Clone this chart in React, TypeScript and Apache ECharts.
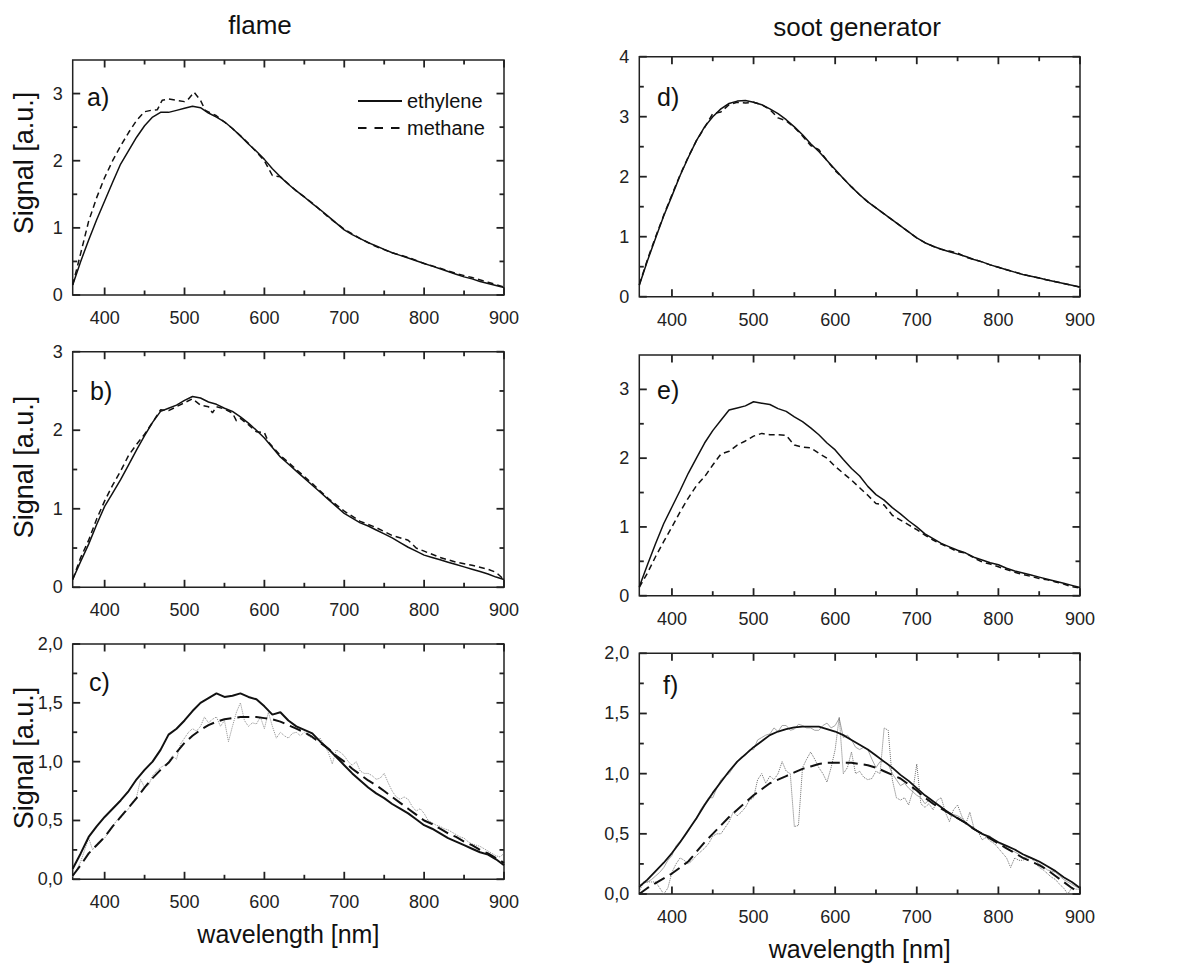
import React, { useEffect, useRef } from 'react';
import * as echarts from 'echarts';

const FONT = '"Liberation Sans", Arial, Helvetica, sans-serif';
const AX = '#222';
const INK = '#111';

// ---- axis range and tick values ----
const X_MIN = 360;
const X_MAX = 900;
const X_MAJOR_STEP = 100;
const X_MAJOR_TICKS = [400, 500, 600, 700, 800, 900];
const X_MINOR_TICKS = [450, 550, 650, 750, 850];
const Y_TICKS_A = { major: [0, 1, 2, 3], minor: [0.5, 1.5, 2.5] };
const Y_TICKS_B = { major: [0, 1, 2, 3], minor: [0.5, 1.5, 2.5] };
const Y_TICKS_D = { major: [0, 1, 2, 3, 4], minor: [0.5, 1.5, 2.5, 3.5] };
const Y_TICKS_CF = { major: [0, 0.5, 1, 1.5, 2], minor: [0.25, 0.75, 1.25, 1.75] };

// ---- wavelength grids [nm] ----
const WL10 = [360, 370, 380, 390, 400, 410, 420, 430, 440, 450, 460, 470, 480, 490, 500, 510, 520, 530, 540, 550,
  560, 570, 580, 590, 600, 610, 620, 630, 640, 650, 660, 670, 680, 690, 700, 710, 720, 730, 740, 750,
  760, 770, 780, 790, 800, 810, 820, 830, 840, 850, 860, 870, 880, 890, 900];
const WL5 = [360, 365, 370, 375, 380, 385, 390, 395, 400, 405, 410, 415, 420, 425, 430, 435, 440, 445, 450, 455,
  460, 465, 470, 475, 480, 485, 490, 495, 500, 505, 510, 515, 520, 525, 530, 535, 540, 545, 550, 555,
  560, 565, 570, 575, 580, 585, 590, 595, 600, 605, 610, 615, 620, 625, 630, 635, 640, 645, 650, 655,
  660, 665, 670, 675, 680, 685, 690, 695, 700, 705, 710, 715, 720, 725, 730, 735, 740, 745, 750, 755,
  760, 765, 770, 775, 780, 785, 790, 795, 800, 805, 810, 815, 820, 825, 830, 835, 840, 845, 850, 855,
  860, 865, 870, 875, 880, 885, 890, 895, 900];

// ---- panel a) flame ----
const A_ETHYLENE = [0.15, 0.5, 0.82, 1.12, 1.4, 1.68, 1.95, 2.15, 2.35, 2.52,
  2.65, 2.72, 2.72, 2.75, 2.78, 2.81, 2.79, 2.71, 2.65, 2.58,
  2.48, 2.37, 2.25, 2.14, 2.02, 1.88, 1.76, 1.65, 1.55, 1.46,
  1.36, 1.27, 1.17, 1.07, 0.97, 0.9, 0.84, 0.78, 0.73, 0.68,
  0.63, 0.59, 0.55, 0.51, 0.47, 0.43, 0.39, 0.35, 0.31, 0.27,
  0.24, 0.2, 0.17, 0.14, 0.11];
const A_METHANE_WL = [360, 370, 380, 390, 400, 410, 420, 430, 440, 450, 458, 466, 472, 480, 490, 500, 505, 512, 520, 526,
  540, 560, 580, 600, 610, 620, 640, 660, 680, 700, 720, 740, 760, 780, 800, 820, 840, 860, 880, 900];
const A_METHANE = [0.15, 0.62, 1.1, 1.45, 1.75, 2.0, 2.22, 2.42, 2.6, 2.73,
  2.75, 2.76, 2.9, 2.92, 2.9, 2.88, 2.92, 3.02, 2.9, 2.75,
  2.67, 2.48, 2.26, 2.0, 1.78, 1.76, 1.55, 1.37, 1.16, 0.98,
  0.84, 0.72, 0.63, 0.56, 0.47, 0.4, 0.32, 0.26, 0.19, 0.12];

// ---- panel b) flame ----
const B_ETHYLENE = [0.1, 0.33, 0.55, 0.8, 1.03, 1.2, 1.37, 1.56, 1.75, 1.93,
  2.1, 2.24, 2.28, 2.32, 2.38, 2.43, 2.41, 2.36, 2.33, 2.28,
  2.24, 2.17, 2.09, 2.0, 1.9, 1.78, 1.66, 1.57, 1.48, 1.39,
  1.3, 1.21, 1.12, 1.03, 0.94, 0.88, 0.82, 0.78, 0.73, 0.68,
  0.63, 0.57, 0.51, 0.46, 0.41, 0.38, 0.35, 0.32, 0.29, 0.26,
  0.23, 0.2, 0.17, 0.13, 0.1];
const B_METHANE_WL = [360, 370, 380, 390, 400, 410, 420, 430, 440, 450, 460, 470, 480, 490, 500, 510, 520, 530, 535, 540,
  550, 560, 565, 570, 580, 590, 600, 605, 620, 640, 660, 680, 700, 720, 740, 760, 780, 790, 800, 820,
  840, 860, 880, 890, 900];
const B_METHANE = [0.1, 0.38, 0.6, 0.87, 1.1, 1.3, 1.48, 1.68, 1.82, 1.95,
  2.1, 2.26, 2.25, 2.3, 2.35, 2.4, 2.32, 2.3, 2.22, 2.3,
  2.27, 2.22, 2.12, 2.15, 2.07, 1.98, 1.97, 1.85, 1.68, 1.5,
  1.32, 1.13, 0.97, 0.84, 0.76, 0.66, 0.6, 0.5, 0.46, 0.38,
  0.32, 0.28, 0.23, 0.19, 0.1];

// ---- panel c) flame ----
const C_ETHYLENE = [0.09, 0.22, 0.36, 0.45, 0.53, 0.6, 0.67, 0.75, 0.85, 0.93,
  1.0, 1.1, 1.23, 1.28, 1.35, 1.43, 1.5, 1.54, 1.58, 1.55,
  1.56, 1.58, 1.55, 1.53, 1.47, 1.4, 1.42, 1.35, 1.3, 1.27,
  1.24, 1.17, 1.11, 1.04, 0.97, 0.9, 0.84, 0.78, 0.73, 0.69,
  0.64, 0.6, 0.56, 0.51, 0.46, 0.43, 0.39, 0.35, 0.32, 0.29,
  0.26, 0.23, 0.21, 0.17, 0.12];
const C_METHANE = [0.03, 0.12, 0.22, 0.29, 0.36, 0.45, 0.53, 0.61, 0.69, 0.78,
  0.86, 0.93, 0.99, 1.08, 1.16, 1.22, 1.27, 1.31, 1.34, 1.36,
  1.37, 1.38, 1.38, 1.38, 1.37, 1.36, 1.34, 1.31, 1.28, 1.25,
  1.21, 1.16, 1.11, 1.05, 1.0, 0.94, 0.89, 0.84, 0.8, 0.75,
  0.7, 0.65, 0.6, 0.55, 0.5, 0.47, 0.43, 0.39, 0.36, 0.32,
  0.29, 0.25, 0.22, 0.18, 0.14];
const C_MEASURED = [0.02, 0.08, 0.15, 0.25, 0.35, 0.25, 0.3, 0.33, 0.35, 0.4,
  0.45, 0.5, 0.52, 0.56, 0.6, 0.66, 0.7, 0.85, 0.78, 0.8,
  0.88, 0.92, 0.95, 0.97, 1.0, 1.05, 1.02, 1.15, 1.2, 1.25,
  1.28, 1.26, 1.3, 1.38, 1.33, 1.36, 1.38, 1.3, 1.35, 1.17,
  1.3, 1.42, 1.5, 1.35, 1.3, 1.33, 1.32, 1.38, 1.28, 1.42,
  1.3, 1.2, 1.25, 1.22, 1.2, 1.24, 1.25, 1.22, 1.25, 1.22,
  1.2, 1.18, 1.2, 1.14, 1.08, 0.98, 1.1, 1.08, 1.05, 1.0,
  0.97, 1.0, 0.92, 0.9, 0.9, 0.88, 0.85, 0.86, 0.9, 0.82,
  0.75, 0.7, 0.68, 0.7, 0.68, 0.62, 0.58, 0.6, 0.56, 0.5,
  0.48, 0.46, 0.45, 0.43, 0.42, 0.4, 0.38, 0.36, 0.35, 0.32,
  0.3, 0.29, 0.28, 0.26, 0.24, 0.22, 0.2, 0.19, 0.22];

// ---- panel d) soot generator ----
const D_ETHYLENE = [0.19, 0.6, 0.98, 1.35, 1.68, 2.02, 2.32, 2.6, 2.83, 3.0,
  3.13, 3.22, 3.26, 3.27, 3.24, 3.2, 3.13, 3.05, 2.95, 2.83,
  2.7, 2.55, 2.42, 2.27, 2.12, 1.97, 1.83, 1.7, 1.58, 1.48,
  1.38, 1.28, 1.18, 1.08, 0.98, 0.9, 0.84, 0.79, 0.75, 0.71,
  0.67, 0.62, 0.58, 0.53, 0.49, 0.45, 0.41, 0.37, 0.34, 0.31,
  0.28, 0.25, 0.22, 0.19, 0.16];
const D_METHANE = [0.2, 0.62, 1.0, 1.36, 1.7, 2.03, 2.33, 2.6, 2.82, 3.05,
  3.08, 3.2, 3.24, 3.23, 3.24, 3.2, 3.12, 2.98, 2.93, 2.82,
  2.68, 2.52, 2.45, 2.27, 2.1, 1.97, 1.83, 1.7, 1.58, 1.48,
  1.38, 1.28, 1.18, 1.08, 0.98, 0.9, 0.84, 0.79, 0.76, 0.73,
  0.66, 0.62, 0.58, 0.53, 0.49, 0.45, 0.41, 0.37, 0.34, 0.31,
  0.28, 0.25, 0.22, 0.19, 0.16];

// ---- panel e) soot generator ----
const E_ETHYLENE = [0.13, 0.45, 0.76, 1.05, 1.29, 1.53, 1.78, 2.0, 2.22, 2.4,
  2.55, 2.7, 2.73, 2.76, 2.82, 2.8, 2.78, 2.72, 2.68, 2.6,
  2.53, 2.44, 2.34, 2.22, 2.12, 1.98, 1.85, 1.74, 1.59, 1.47,
  1.39, 1.28, 1.19, 1.09, 1.0, 0.9, 0.83, 0.76, 0.71, 0.66,
  0.62, 0.56, 0.52, 0.48, 0.45, 0.4, 0.36, 0.33, 0.3, 0.27,
  0.24, 0.21, 0.18, 0.15, 0.12];
const E_METHANE = [0.12, 0.33, 0.57, 0.79, 1.0, 1.22, 1.42, 1.6, 1.73, 1.9,
  2.06, 2.1, 2.19, 2.25, 2.32, 2.36, 2.34, 2.34, 2.33, 2.19,
  2.16, 2.15, 2.07, 2.0, 1.88, 1.78, 1.68, 1.57, 1.46, 1.34,
  1.32, 1.17, 1.1, 1.03, 0.96, 0.88, 0.81, 0.75, 0.7, 0.64,
  0.62, 0.55, 0.49, 0.46, 0.42, 0.38, 0.34, 0.31, 0.28, 0.25,
  0.23, 0.2, 0.17, 0.13, 0.11];

// ---- panel f) soot generator ----
const F_ETHYLENE = [0.06, 0.12, 0.19, 0.26, 0.34, 0.43, 0.53, 0.63, 0.74, 0.84,
  0.93, 1.02, 1.1, 1.16, 1.22, 1.27, 1.32, 1.35, 1.37, 1.385,
  1.39, 1.39, 1.39, 1.37, 1.35, 1.32, 1.28, 1.24, 1.2, 1.15,
  1.1, 1.05, 0.99, 0.94, 0.88, 0.82, 0.77, 0.72, 0.67, 0.63,
  0.59, 0.54, 0.5, 0.47, 0.43, 0.4, 0.37, 0.33, 0.3, 0.27,
  0.23, 0.19, 0.14, 0.1, 0.05];
const F_METHANE = [0.0, 0.05, 0.09, 0.13, 0.17, 0.22, 0.27, 0.35, 0.43, 0.5,
  0.57, 0.64, 0.7, 0.76, 0.82, 0.87, 0.92, 0.95, 0.98, 1.01,
  1.04, 1.06, 1.08, 1.09, 1.09, 1.09, 1.09, 1.08, 1.07, 1.05,
  1.02, 0.99, 0.96, 0.91, 0.86, 0.8, 0.75, 0.71, 0.67, 0.63,
  0.59, 0.54, 0.5, 0.46, 0.42, 0.38, 0.34, 0.3, 0.27, 0.24,
  0.2, 0.15, 0.1, 0.05, 0.01];
const F_MEASURED_ETH = [0.07, 0.09, 0.1, 0.12, 0.15, 0.18, 0.22, 0.28, 0.32, 0.4,
  0.44, 0.47, 0.52, 0.58, 0.62, 0.7, 0.75, 0.8, 0.8, 0.88,
  0.95, 0.98, 1.0, 1.05, 1.1, 1.14, 1.15, 1.2, 1.2, 1.28,
  1.3, 1.32, 1.33, 1.38, 1.35, 1.4, 1.4, 1.36, 1.37, 1.41,
  1.4, 1.38, 1.38, 1.36, 1.36, 1.4, 1.42, 1.38, 1.4, 1.46,
  1.3, 1.32, 1.28, 1.22, 1.2, 1.22, 1.2, 1.12, 1.05, 1.1,
  1.1, 1.08, 1.0, 0.95, 0.9, 0.92, 0.88, 0.85, 0.82, 0.8,
  0.75, 0.78, 0.75, 0.74, 0.72, 0.7, 0.68, 0.66, 0.65, 0.63,
  0.6, 0.57, 0.55, 0.52, 0.5, 0.49, 0.48, 0.45, 0.42, 0.41,
  0.38, 0.36, 0.35, 0.33, 0.3, 0.31, 0.3, 0.28, 0.25, 0.23,
  0.2, 0.19, 0.18, 0.15, 0.12, 0.1, 0.08, 0.06, 0.05];
const F_MEASURED_METH = [0.02, 0.1, 0.1, 0.1, 0.1, 0.05, 0.0, 0.05, 0.18, 0.25,
  0.3, 0.28, 0.25, 0.28, 0.32, 0.35, 0.38, 0.42, 0.48, 0.5,
  0.5, 0.55, 0.6, 0.68, 0.65, 0.68, 0.72, 0.78, 0.8, 0.95,
  1.0, 0.92, 0.98, 0.95, 1.0, 1.1, 1.02, 1.0, 0.56, 0.57,
  1.05, 1.12, 1.18, 1.12, 1.05, 1.0, 0.93, 1.05, 1.2, 1.47,
  1.0, 1.05, 1.18, 1.0, 1.02, 0.97, 0.95, 0.96, 1.02, 1.0,
  1.38, 1.36, 0.95, 0.8, 0.78, 0.8, 0.74, 0.85, 1.08, 0.75,
  0.72, 0.75, 0.7, 0.78, 0.8, 0.68, 0.6, 0.7, 0.74, 0.65,
  0.58, 0.68, 0.55, 0.52, 0.45, 0.47, 0.44, 0.42, 0.38, 0.34,
  0.3, 0.22, 0.3, 0.28, 0.28, 0.3, 0.3, 0.26, 0.22, 0.2,
  0.17, 0.14, 0.12, 0.08, 0.05, 0.0, 0.05, 0.04, 0.04];

const zip = (xs: number[], ys: number[]) => xs.map((x, i) => [x, ys[i]]);

type Panel = {
  label: string; left: number; top: number; width: number; height: number;
  yMax: number; yStep: number; yTicks: { major: number[]; minor: number[] }; comma: boolean; xName?: string;
};

const PANELS: Panel[] = [
  { label: 'a)', left: 72.7, top: 60, width: 431.3, height: 235, yMax: 3.5, yStep: 1, yTicks: Y_TICKS_A, comma: false },
  { label: 'b)', left: 72.7, top: 351.7, width: 431.3, height: 235.6, yMax: 3, yStep: 1, yTicks: Y_TICKS_B, comma: false },
  { label: 'c)', left: 72.7, top: 644, width: 431.3, height: 235.3, yMax: 2, yStep: 0.5, yTicks: Y_TICKS_CF, comma: true, xName: 'wavelength [nm]' },
  { label: 'd)', left: 639.3, top: 56.7, width: 440.7, height: 240, yMax: 4, yStep: 1, yTicks: Y_TICKS_D, comma: false },
  { label: 'e)', left: 639.3, top: 355, width: 440.7, height: 240.7, yMax: 3.5, yStep: 1, yTicks: Y_TICKS_A, comma: false },
  { label: 'f)', left: 639.3, top: 653.3, width: 440.7, height: 240.7, yMax: 2, yStep: 0.5, yTicks: Y_TICKS_CF, comma: true, xName: 'wavelength [nm]' },
];

const LABEL_POS = [[87, 97], [90, 391], [89, 682], [657, 97], [657, 390], [663, 685]];

// Mirror tick marks on all four sides, drawn as small rect symbols placed through the axes.
const TICK_MAJ = 7.5;
const TICK_MIN = 4.5;
const TICK_W = 1.8;
function tickSeries(gi: number, p: Panel) {
  const data: any[] = [];
  const addX = (v: number, len: number) => {
    data.push({ value: [v, 0], symbolSize: [TICK_W, len], symbolOffset: [0, -len / 2] });
    data.push({ value: [v, p.yMax], symbolSize: [TICK_W, len], symbolOffset: [0, len / 2] });
  };
  const addY = (v: number, len: number) => {
    data.push({ value: [X_MIN, v], symbolSize: [len, TICK_W], symbolOffset: [len / 2, 0] });
    data.push({ value: [X_MAX, v], symbolSize: [len, TICK_W], symbolOffset: [-len / 2, 0] });
  };
  X_MAJOR_TICKS.forEach((v) => addX(v, TICK_MAJ));
  X_MINOR_TICKS.forEach((v) => addX(v, TICK_MIN));
  p.yTicks.major.forEach((v) => addY(v, TICK_MAJ));
  p.yTicks.minor.forEach((v) => addY(v, TICK_MIN));
  return {
    type: 'scatter', name: 'axis ticks', xAxisIndex: gi, yAxisIndex: gi, symbol: 'rect',
    itemStyle: { color: AX, opacity: 1 }, clip: false, silent: true, z: 10,
    emphasis: { disabled: true }, data,
  };
}

function buildOption() {
  const grids: any[] = [];
  const xAxes: any[] = [];
  const yAxes: any[] = [];
  PANELS.forEach((p, gi) => {
    grids.push({ left: p.left, top: p.top, width: p.width, height: p.height, show: true, borderColor: AX, borderWidth: 1.5, backgroundColor: 'transparent' });
    xAxes.push({
      type: 'value', gridIndex: gi, min: X_MIN, max: X_MAX, minInterval: X_MAJOR_STEP, maxInterval: X_MAJOR_STEP,
      position: 'bottom', splitLine: { show: false }, axisLine: { show: false, onZero: false },
      axisTick: { show: false },
      axisLabel: { show: true, showMinLabel: false, showMaxLabel: true, margin: 14, fontSize: 18, color: '#222', fontFamily: FONT, formatter: (v: number) => String(v) },
      name: p.xName || '', nameLocation: 'middle', nameGap: 42,
      nameTextStyle: { fontSize: 25, fontFamily: FONT, color: '#111' },
    });
    const fmt = p.comma ? (v: number) => v.toFixed(1).replace('.', ',') : (v: number) => String(v);
    const maxIsTick = Math.abs(p.yMax / p.yStep - Math.round(p.yMax / p.yStep)) < 1e-9;
    yAxes.push({
      type: 'value', gridIndex: gi, min: 0, max: p.yMax, minInterval: p.yStep, maxInterval: p.yStep,
      position: 'left', splitLine: { show: false }, axisLine: { show: false, onZero: false },
      axisTick: { show: false },
      axisLabel: { show: true, showMinLabel: true, showMaxLabel: maxIsTick, margin: 10, fontSize: 18, color: '#222', fontFamily: FONT, formatter: fmt },
    });
  });

  const solid = (w = 1.5) => ({ color: INK, width: w, type: 'solid' });
  const dashed = { color: INK, width: 1.5, type: [6, 4] };
  const longDash = { color: INK, width: 2, type: [12, 6] };
  const mk = (gi: number, name: string, data: number[][], lineStyle: any, z = 3) => ({
    type: 'line', name, xAxisIndex: gi, yAxisIndex: gi, data, symbol: 'none', showSymbol: false,
    color: lineStyle.color, itemStyle: { color: lineStyle.color },
    lineStyle, z, emphasis: { disabled: true }, silent: true,
  });

  const series: any[] = [
    mk(0, 'ethylene', zip(WL10, A_ETHYLENE), solid()),
    mk(0, 'methane', zip(A_METHANE_WL, A_METHANE), dashed),
    mk(1, 'ethylene', zip(WL10, B_ETHYLENE), solid()),
    mk(1, 'methane', zip(B_METHANE_WL, B_METHANE), dashed),
    mk(2, 'measured', zip(WL5, C_MEASURED), { color: '#8c8c8c', width: 1, type: 'dotted' }, 2),
    mk(2, 'ethylene', zip(WL10, C_ETHYLENE), solid(2)),
    mk(2, 'methane', zip(WL10, C_METHANE), longDash),
    mk(3, 'ethylene', zip(WL10, D_ETHYLENE), solid()),
    mk(3, 'methane', zip(WL10, D_METHANE), dashed),
    mk(4, 'ethylene', zip(WL10, E_ETHYLENE), solid()),
    mk(4, 'methane', zip(WL10, E_METHANE), dashed),
    mk(5, 'measured ethylene', zip(WL5, F_MEASURED_ETH), { color: '#a6a6a6', width: 1, type: 'solid' }, 2),
    mk(5, 'measured methane', zip(WL5, F_MEASURED_METH), { color: '#6e6e6e', width: 1, type: 'dotted' }, 2),
    mk(5, 'ethylene', zip(WL10, F_ETHYLENE), solid(1.8)),
    mk(5, 'methane', zip(WL10, F_METHANE), longDash),
  ];
  PANELS.forEach((p, gi) => series.push(tickSeries(gi, p)));

  const graphic: any[] = [
    { type: 'text', x: 260, y: 25, style: { text: 'flame', fontSize: 26, fontFamily: FONT, fill: '#111', align: 'center', verticalAlign: 'middle' } },
    { type: 'text', x: 857, y: 27, style: { text: 'soot generator', fontSize: 26, fontFamily: FONT, fill: '#111', align: 'center', verticalAlign: 'middle' } },
  ];
  [163, 467, 758].forEach((cy) => {
    graphic.push({ type: 'text', x: 24, y: cy, rotation: Math.PI / 2, style: { text: 'Signal [a.u.]', fontSize: 27, fontFamily: FONT, fill: '#111', align: 'center', verticalAlign: 'middle' } });
  });
  PANELS.forEach((p, i) => {
    graphic.push({ type: 'text', x: LABEL_POS[i][0], y: LABEL_POS[i][1], style: { text: p.label, fontSize: 25, fontFamily: FONT, fill: '#111', align: 'left', verticalAlign: 'middle' } });
  });

  return {
    animation: false,
    backgroundColor: '#ffffff',
    grid: grids,
    xAxis: xAxes,
    yAxis: yAxes,
    legend: {
      data: [{ name: 'ethylene' }, { name: 'methane', lineStyle: { type: [8.5, 8] } }],
      orient: 'vertical', left: 352, top: 86, itemWidth: 44, itemHeight: 12, itemGap: 7,
      selectedMode: false, textStyle: { fontSize: 20, fontFamily: FONT, color: '#111' },
      itemStyle: { color: 'rgba(0,0,0,0)', borderWidth: 0, opacity: 0 },
    },
    graphic,
    series,
  };
}

export default function App() {
  const ref = useRef<HTMLDivElement>(null);
  useEffect(() => {
    if (!ref.current) return;
    const chart = echarts.init(ref.current, undefined, { renderer: 'svg' });
    chart.setOption(buildOption() as any);
    return () => chart.dispose();
  }, []);
  return <div ref={ref} style={{ position: 'absolute', left: 0, top: 0, width: 1178, height: 967, background: '#fff' }} />;
}
